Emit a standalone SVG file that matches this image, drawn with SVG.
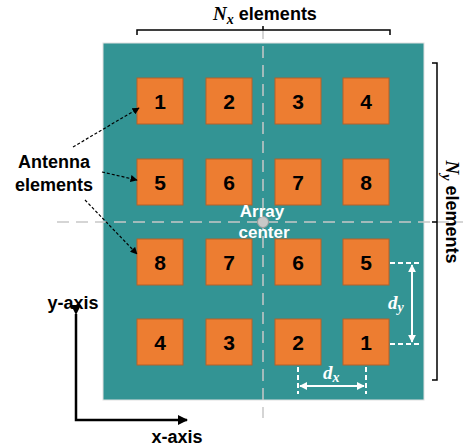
<svg xmlns="http://www.w3.org/2000/svg" width="463" height="447" viewBox="0 0 463 447">
<defs>
<style>
.lbl{font-family:"Liberation Sans",Arial,sans-serif;font-weight:bold;font-size:18px;fill:#000}
.num{font-family:"Liberation Sans",Arial,sans-serif;font-weight:bold;font-size:21px;fill:#000;text-anchor:middle}
.el{fill:#ED7D31;stroke:#B3602A;stroke-width:1}
.math{font-family:"Liberation Serif","Times New Roman",serif;font-style:italic;font-weight:bold}
.guide{stroke:#C8C8C8;stroke-width:1.5;stroke-dasharray:12 7;fill:none}
.wd{stroke:#fff;stroke-width:2;stroke-dasharray:5 3;fill:none}
.br{stroke:#000;stroke-width:1.5;fill:none}
</style>
<marker id="ah" viewBox="0 0 10 10" refX="9" refY="5" markerWidth="6" markerHeight="6" orient="auto-start-reverse"><path d="M0,0 L10,5 L0,10 z" fill="#000"/></marker>
<marker id="aw" viewBox="0 0 10 10" refX="9" refY="5" markerWidth="4" markerHeight="4" orient="auto-start-reverse"><path d="M0,0 L10,5 L0,10 z" fill="#fff"/></marker>
<marker id="ax" viewBox="0 0 10 10" refX="9" refY="5" markerWidth="4" markerHeight="4" orient="auto"><path d="M0,0 L10,5 L0,10 z" fill="#000"/></marker>
</defs>
<rect id="substrate" x="103" y="43" width="321" height="357" fill="#339494" stroke="#E0E0E0" stroke-width="1"/>
<g id="guides">
<line class="guide" x1="263" y1="27" x2="263" y2="418"/>
<line class="guide" x1="57" y1="222" x2="463" y2="222"/>
</g>
<g id="elements">
<g id="e-r1c1"><rect class="el" x="137" y="78" width="46" height="46"/><text class="num" x="160" y="109">1</text></g>
<g id="e-r1c2"><rect class="el" x="206" y="78" width="46" height="46"/><text class="num" x="229" y="109">2</text></g>
<g id="e-r1c3"><rect class="el" x="275" y="78" width="46" height="46"/><text class="num" x="298" y="109">3</text></g>
<g id="e-r1c4"><rect class="el" x="343" y="78" width="46" height="46"/><text class="num" x="366" y="109">4</text></g>
<g id="e-r2c1"><rect class="el" x="137" y="159" width="46" height="46"/><text class="num" x="160" y="190">5</text></g>
<g id="e-r2c2"><rect class="el" x="206" y="159" width="46" height="46"/><text class="num" x="229" y="190">6</text></g>
<g id="e-r2c3"><rect class="el" x="275" y="159" width="46" height="46"/><text class="num" x="298" y="190">7</text></g>
<g id="e-r2c4"><rect class="el" x="343" y="159" width="46" height="46"/><text class="num" x="366" y="190">8</text></g>
<g id="e-r3c1"><rect class="el" x="137" y="239" width="46" height="46"/><text class="num" x="160" y="270">8</text></g>
<g id="e-r3c2"><rect class="el" x="206" y="239" width="46" height="46"/><text class="num" x="229" y="270">7</text></g>
<g id="e-r3c3"><rect class="el" x="275" y="239" width="46" height="46"/><text class="num" x="298" y="270">6</text></g>
<g id="e-r3c4"><rect class="el" x="343" y="239" width="46" height="46"/><text class="num" x="366" y="270">5</text></g>
<g id="e-r4c1"><rect class="el" x="137" y="319" width="46" height="46"/><text class="num" x="160" y="350">4</text></g>
<g id="e-r4c2"><rect class="el" x="206" y="319" width="46" height="46"/><text class="num" x="229" y="350">3</text></g>
<g id="e-r4c3"><rect class="el" x="275" y="319" width="46" height="46"/><text class="num" x="298" y="350">2</text></g>
<g id="e-r4c4"><rect class="el" x="343" y="319" width="46" height="46"/><text class="num" x="366" y="350">1</text></g>
</g>
<g id="center">
<circle cx="263" cy="222" r="5.5" fill="#C8C8C8" stroke="#9A9A9A" stroke-width="1"/>
<text class="lbl" x="262" y="217" text-anchor="middle" fill="#fff" style="fill:#fff;font-size:17px">Array</text>
<text class="lbl" x="264" y="238" text-anchor="middle" style="fill:#fff;font-size:17px">center</text>
</g>
<g id="brackets">
<path class="br" d="M137,35 L137,30 L390,30 L390,35 M263,30 L263,26"/>
<path class="br" d="M432,63 L437,63 L437,380 L432,380 M437,222 L432,222"/>
</g>
<g id="labels">
<text class="lbl" x="265" y="20" text-anchor="middle"><tspan class="math" style="font-size:19px">N</tspan><tspan class="math" style="font-size:14px" dy="4">x</tspan><tspan dy="-4"> elements</tspan></text>
<text class="lbl" transform="translate(446,212) rotate(90)" text-anchor="middle"><tspan class="math" style="font-size:19px">N</tspan><tspan class="math" style="font-size:14px" dy="4">y</tspan><tspan dy="-4"> elements</tspan></text>
<text class="lbl" x="54" y="168" text-anchor="middle">Antenna</text>
<text class="lbl" x="54" y="191" text-anchor="middle">elements</text>
<text class="lbl" x="73" y="309" text-anchor="middle">y-axis</text>
<text class="lbl" x="177" y="443" text-anchor="middle">x-axis</text>
</g>
<g id="connectors">
<line x1="73" y1="147" x2="139" y2="108" stroke="#000" stroke-width="1.2" stroke-dasharray="3 2" marker-end="url(#ah)"/>
<line x1="102" y1="172" x2="137" y2="180" stroke="#000" stroke-width="1.2" stroke-dasharray="3 2" marker-end="url(#ah)"/>
<line x1="85" y1="200" x2="137" y2="254" stroke="#000" stroke-width="1.2" stroke-dasharray="3 2" marker-end="url(#ah)"/>
<polyline points="76,314 76,420 187,420" fill="none" stroke="#000" stroke-width="2.5" marker-start="url(#ax)" marker-end="url(#ax)"/>
</g>
<g id="spacing">
<line class="wd" x1="298" y1="367" x2="298" y2="394"/>
<line class="wd" x1="366" y1="367" x2="366" y2="394"/>
<line x1="300" y1="386" x2="364" y2="386" stroke="#fff" stroke-width="2" marker-start="url(#aw)" marker-end="url(#aw)"/>
<text x="323" y="379" fill="#fff" class="math" style="font-size:19px">d<tspan style="font-size:14px" dy="3">x</tspan></text>
<line class="wd" x1="390" y1="263" x2="421" y2="263"/>
<line class="wd" x1="390" y1="344" x2="421" y2="344"/>
<line x1="412" y1="265" x2="412" y2="342" stroke="#fff" stroke-width="2" marker-start="url(#aw)" marker-end="url(#aw)"/>
<text x="388" y="309" fill="#fff" class="math" style="font-size:19px">d<tspan style="font-size:14px" dy="3">y</tspan></text>
</g>
</svg>
